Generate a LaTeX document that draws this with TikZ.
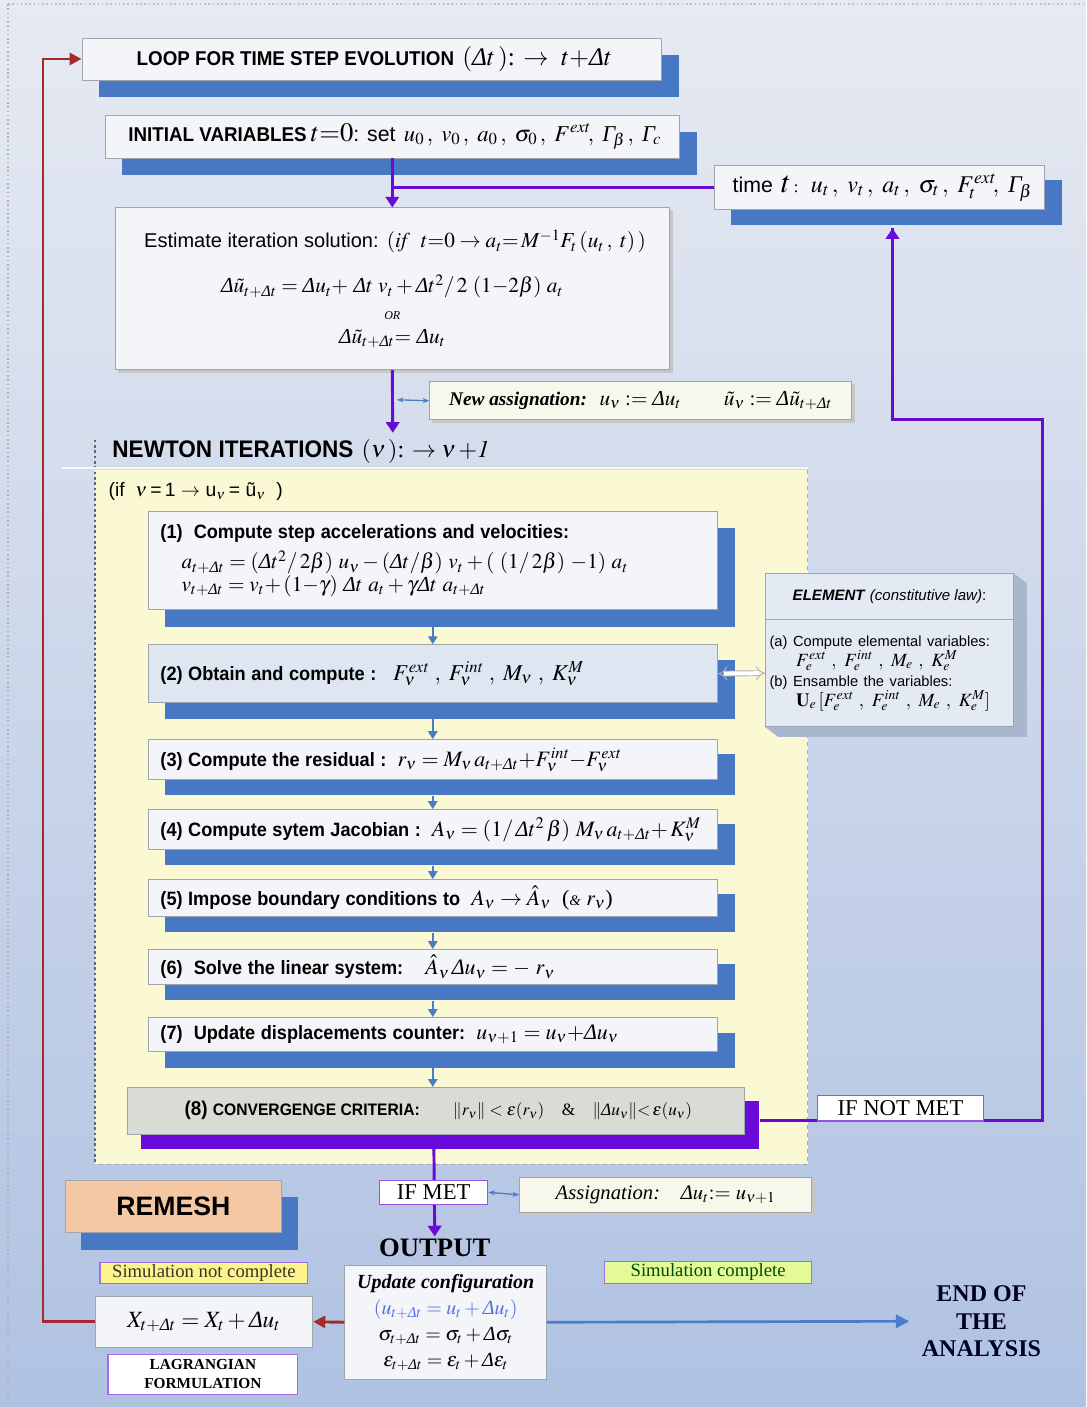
\documentclass[tikz,border=0pt]{standalone}
\usepackage{mathptmx}
\usepackage{amsmath}
\usepackage{fontspec}
\setmainfont{Liberation Serif}
\setsansfont{Liberation Sans}
\newfontfamily\nsf[FakeStretch=0.94]{Liberation Sans}
\usetikzlibrary{arrows.meta,calc}
\pgfdeclarelayer{bg}\pgfdeclarelayer{shad}
\pgfsetlayers{bg,shad,main}
\definecolor{bgtop}{HTML}{E6EAF2}
\definecolor{bgbot}{HTML}{B0C2E2}
\definecolor{shblue}{HTML}{4878C4}
\definecolor{boxfill}{HTML}{F3F5F9}
\definecolor{boxedge}{HTML}{A0A4AC}
\definecolor{purp}{HTML}{6A0AD8}
\definecolor{dred}{HTML}{A52A30}
\definecolor{arrblue}{HTML}{4A7CC8}
\definecolor{yel}{HTML}{FBF8D4}
\definecolor{cream}{HTML}{F8F7EC}
\definecolor{conv}{HTML}{D8DCD4}
\definecolor{remeshc}{HTML}{F4C8A2}
\definecolor{elemc}{HTML}{E4EAF4}
\definecolor{elemside}{HTML}{A8B6CE}
\definecolor{steptwo}{HTML}{DEE6F2}
\definecolor{simy}{HTML}{FCF38C}
\definecolor{simg}{HTML}{E4FA98}
\definecolor{outblue}{HTML}{5470E0}
\newcommand\Dl{\text{\itshape Δ}}
\newcommand\Gm{\text{\itshape Γ}}
\newcommand\fs[1]{\fontsize{#1}{#1}\selectfont}
\newcommand\shad[3][shblue]{\begin{pgfonlayer}{shad}\fill[#1] ([shift={(#3)}]#2.north west) rectangle ([shift={(#3)}]#2.south east);\end{pgfonlayer}}
\begin{document}
\begin{tikzpicture}[x=0.75pt,y=-0.75pt,
  every node/.style={font=\fontsize{12.5}{15}\selectfont},
  area/.style n args={4}{at={({(#1+#3)/2},{(#2+#4)/2})}, minimum width={(#3-#1)*0.75pt}, minimum height={(#4-#2)*0.75pt}},
  box/.style={draw=boxedge, fill=boxfill, line width=0.6pt, inner sep=0pt},
  cbox/.style={box, fill=cream},
  stepbox/.style={box, text width=417pt, align=left},
  lbl/.style={draw=purp!70, fill=white, line width=0.9pt, inner sep=0pt, font=\fontsize{17}{19}\selectfont},
  simbox/.style={draw=purp!60, line width=0.9pt, inner sep=0pt, font=\fontsize{14}{16}\selectfont},
  purpline/.style={draw=purp, line width=2.2pt},
  parrow/.style={purpline, -{Triangle[width=10pt,length=8pt]}},
  sarrow/.style={draw=arrblue, line width=1.6pt, -{Triangle[width=7pt,length=6pt]}},
  dblue/.style={draw=arrblue, line width=1pt, {Stealth[length=5pt]}-{Stealth[length=5pt]}},
  redarrow/.style={draw=dred, line width=2.2pt, -{Triangle[width=9pt,length=9pt]}},
  hollow/.style={double=white, double distance=3pt, draw=gray!60, line width=0.7pt, {Implies}-{Implies}}
]
\begin{pgfonlayer}{bg}
\shade[top color=bgtop, bottom color=bgbot] (0,0) rectangle (1086,1407);
\draw[gray!60, dotted, line width=1.2pt] (8,4) -- (8,1407);
\draw[gray!50, dotted, line width=1.2pt] (8,4) -- (1086,4);
\fill[yel] (95,470) rectangle (808,1165);
\draw[gray!70, dashed, line width=0.6pt] (808,470) -- (808,1165) -- (95,1165);
\draw[black!60, dash pattern=on 2pt off 2pt, line width=1pt] (95,440) -- (95,1165);
\draw[white!60!bgtop, line width=1.5pt] (62,468) -- (808,468);
\end{pgfonlayer}
\useasboundingbox (0,0) rectangle (1086,1407);

% top boxes
\node[box, area={82}{38}{662}{80}] (loop) {{\nsf\bfseries\fs{15} LOOP FOR TIME STEP EVOLUTION}\ \ {\fs{19}$(\Dl t\,)$: $\rightarrow$\ \ $t{+}\Dl t$}};
\shad{loop}{17,17}
\node[box, area={105}{115}{680}{158}] (init) {{\nsf\bfseries\fs{15} INITIAL VARIABLES} {\fs{20}$t{=}0$}{\sffamily\fs{16}: set}\ \ {\fs{17}$u_0\,,\ v_0\,,\ a_0\,,\ \sigma_0\,,\ F^{\mathit{ext}}\!,\ \Gm_{\!\beta}\,,\ \Gm_{\!c}$}};
\shad{init}{17,17}
\node[box, area={715}{165}{1045}{210}] (time) {{\sffamily\fs{16} time}\ \ {\fs{23}$t$}\,:\ \ \ {\fs{18}$u_t\,,\ v_t\,,\ a_t\,,\ \sigma_t\,,\ F_t^{\mathit{ext}}\!,\ \Gm_{\!\beta}$}};
\shad{time}{17,15}

\node[box, area={115}{208}{670}{370}, align=center] (est) {{\sffamily\fs{15} Estimate iteration solution:}\ \ {\fs{16}$(\mathit{if}\ \ t{=}0\rightarrow a_t{=}\,M^{-1}F_t\,(u_t\,,\ t)\,)$}\\[15pt]
{\fs{16}$\Dl\tilde u_{t+\Dl t} = \Dl u_t{+}\ \Dl t\ v_t + \Dl t^2/\,2\ (1{-}2\beta)\ a_t$}\\[5pt]
{\fs{9}\itshape OR}\\[3pt]
{\fs{16}$\Dl\tilde u_{t+\Dl t}{=}\ \Dl u_t$}};
\shad[gray!45]{est}{3,3}

\draw[parrow] (init.south) -- (est.north);
\begin{pgfonlayer}{shad}
\draw[purpline] (time.west) -- (time.west -| init.south);
\end{pgfonlayer}

\node[cbox, area={430}{382}{852}{420}] (assign) {{\fs{14.5}\textbf{\textit{New assignation:}}}\ \ \ {\fs{16}$u_\nu := \Dl u_t$\qquad $\tilde u_\nu := \Dl\tilde u_{t+\Dl t}$}};
\shad[gray!45]{assign}{3,3}

\node[anchor=west, inner sep=0pt] (newton) at (106,452) {{\nsf\bfseries\fs{18} NEWTON ITERATIONS}\ \ {\fs{18}$(\nu\,)$: $\rightarrow \nu\,{+}\mathit{1}$}};
\coordinate (ntop) at (393,433);
\draw[parrow] (est.south) -- (ntop);
\coordinate (aa) at (397,400);
\draw[dblue] (aa) -- (assign.west);

\node[anchor=west, inner sep=0pt] (ifnu) at (103,492) {{\sffamily\fs{14.5} (if\ \ $\nu$\,=\,1 $\rightarrow$ u$_\nu$\,= ũ$_\nu$\ \ )}};

% Newton steps
\node[stepbox, area={148}{512}{718}{610}] (s1) {{\nsf\bfseries\fs{14.5} (1)\ \ Compute step accelerations and velocities:}\\[5pt]
\hspace*{20pt}{\fontsize{16}{21}\selectfont$a_{t+\Dl t} = (\Dl t^2/\,2\beta)\ u_\nu - (\Dl t/\beta)\ v_t + (\ (1/\,2\beta)\ {-}1)\ a_t$}\\
\hspace*{20pt}{\fontsize{16}{21}\selectfont$v_{t+\Dl t} = v_t{+}\,(1{-}\gamma)\ \Dl t\ a_t + \gamma\Dl t\ a_{t+\Dl t}$}};
\shad{s1}{17,17}
\node[stepbox, fill=steptwo, area={148}{645}{718}{703}] (s2) {{\nsf\bfseries\fs{14.5} (2) Obtain and compute :}\ \ \ {\fs{17}$F_\nu^{\mathit{ext}}\ ,\ F_\nu^{\mathit{int}}\ ,\ M_\nu\ ,\ K_\nu^M$}};
\shad{s2}{17,16}
\node[stepbox, area={148}{740}{718}{780}] (s3) {{\nsf\bfseries\fs{14.5} (3) Compute the residual :}\ \ {\fs{16.5}$r_\nu = M_\nu\,a_{t+\Dl t}{+}F_\nu^{\mathit{int}}{-}F_\nu^{\mathit{ext}}$}};
\shad{s3}{17,15}
\node[stepbox, area={148}{810}{718}{850}] (s4) {{\nsf\bfseries\fs{14.5} (4) Compute sytem Jacobian :}\ \ {\fs{16.5}$A_\nu = (1/\,\Dl t^2\,\beta)\ M_\nu\,a_{t+\Dl t}{+}\,K_\nu^M$}};
\shad{s4}{17,15}
\node[stepbox, area={148}{880}{718}{917}] (s5) {{\nsf\bfseries\fs{14.5} (5) Impose boundary conditions to}\ \ {\fs{16.5}$A_\nu\rightarrow \hat A_\nu$\ \ ({\fs{11}\textit{\&}} $r_\nu$)}};
\shad{s5}{17,15}
\node[stepbox, area={148}{950}{718}{985}] (s6) {{\nsf\bfseries\fs{14.5} (6)\ \ Solve the linear system:}\quad\ {\fs{16.5}$\hat A_\nu\,\Dl u_\nu = -\ r_\nu$}};
\shad{s6}{17,15}
\node[stepbox, area={148}{1018}{718}{1052}] (s7) {{\nsf\bfseries\fs{14.5} (7)\ \ Update displacements counter:}\ \ {\fs{16.5}$u_{\nu+1} = u_\nu{+}\Dl u_\nu$}};
\shad{s7}{17,16}
\node[box, fill=conv, area={127}{1088}{745}{1135}] (s8) {{\nsf\bfseries\fs{15} (8) {\fs{12.5}CONVERGENGE CRITERIA:}}\qquad {\fs{13}$\|r_\nu\| < \varepsilon(r_\nu)$\quad \&\quad $\|\Dl u_\nu\| {<}\,\varepsilon(u_\nu)$}};
\shad[purp]{s8}{14,14}

\foreach \a/\b in {s1/s2,s2/s3,s3/s4,s4/s5,s5/s6,s6/s7}
  \draw[sarrow] ([shift={(0,16)}]\a.south) -- (\b.north);
\draw[sarrow] ([shift={(0,16)}]s7.south) -- (s7.south |- s8.north);

% element box
\node[box, fill=elemc, area={766}{574}{1014}{620}] (elemh) {{\sffamily\fs{11.3}\textbf{\textit{ELEMENT}} \textit{(constitutive law)}:}};
\node[box, fill=elemc, area={766}{620}{1014}{727}, text width=180pt, align=left] (elemb) {{\sffamily\fontsize{11}{14}\selectfont (a) Compute elemental variables:}\\
\hspace*{20pt}{\fontsize{14}{15}\selectfont$F_e^{\mathit{ext}}\ ,\ F_e^{\mathit{int}}\ ,\ M_e\ ,\ K_e^M$}\\
{\sffamily\fontsize{11}{14}\selectfont (b) Ensamble the variables:}\\
\hspace*{20pt}{\fontsize{14}{15}\selectfont$\mathbf{U}_e\,[F_e^{\mathit{ext}}\ ,\ F_e^{\mathit{int}}\ ,\ M_e\ ,\ K_e^M]$}};
\begin{pgfonlayer}{shad}
\fill[elemside] (elemh.north east) -- ++(13,10) -- ([shift={(13,10)}]elemb.south east) -- ([shift={(13,10)}]elemb.south west) -- (elemb.south west) -- cycle;
\draw[gray!60, line width=0.5pt] (elemh.south east) -- ++(13,10);
\end{pgfonlayer}
\draw[hollow] (s2.east) -- (elemb.west);

% IF NOT MET loop
\coordinate (r1) at (1043,420);
\begin{pgfonlayer}{shad}
\draw[purpline] ([shift={(15,10)}]s8.east) -| (r1) -| ([shift={(13,18)}]time.south);
\end{pgfonlayer}
\draw[parrow] ([shift={(13,40)}]time.south) -- ([shift={(13,18)}]time.south);
\node[lbl, minimum width=125pt, minimum height=19pt] (ifnot) at (901,1109) {IF NOT MET};

% output part
\node[font=\bfseries\fs{20}, inner sep=0pt] (outt) at (435,1249) {OUTPUT};
\node[lbl, minimum width=81pt, minimum height=18pt] (ifmet) at (434,1193) {IF MET};
\begin{pgfonlayer}{shad}
\draw[parrow] (ifmet.north |- s8.south) -- ([yshift=2pt]outt.north);
\end{pgfonlayer}
\node[cbox, area={520}{1178}{812}{1213}] (assign2) {{\fs{15.5}\textit{Assignation:}\quad $\Dl u_t{:=}\ u_{\nu+1}$}};
\shad[gray!45]{assign2}{3,3}
\draw[dblue] (ifmet.east) -- (assign2.west);

\node[box, area={345}{1266}{547}{1380}, align=center, font=\fontsize{15}{19.5}\selectfont] (out) {\textbf{\textit{Update configuration}}\\ {\color{outblue}$(u_{t+\Dl t}= u_t+\Dl u_t)$}\\ $\sigma_{t+\Dl t} = \sigma_t + \Dl\sigma_t$\\ $\varepsilon_{t+\Dl t} = \varepsilon_t + \Dl\varepsilon_t$};

\node[box, fill=remeshc, area={65}{1181}{282}{1233}, font=\sffamily\bfseries\fs{20}] (remesh) {REMESH};
\shad{remesh}{16,17}

\node[simbox, fill=simy, area={100}{1263}{308}{1284}, text=black!80!olive] (snc) {Simulation not complete};
\node[box, area={95}{1297}{313}{1348}] (lag) {{\fs{17.5}$X_{t+\Dl t} = X_t + \Dl u_t$}};
\node[simbox, fill=white, area={108}{1355}{298}{1395}, align=center, font=\bfseries\fontsize{11.5}{14}\selectfont] (lagf) {LAGRANGIAN\\FORMULATION};
\node[simbox, fill=simg, area={605}{1262}{812}{1284}, text=black!70!green] (sc) {Simulation complete};
\node[align=center, font=\bfseries\fontsize{18}{20.5}\selectfont, text=black!85!blue] (endn) at (982,1322) {END OF\\THE\\ANALYSIS};

\draw[redarrow] (out.west) -- (lag.east);
\coordinate (lx) at (43,0);
\draw[redarrow] (lag.west) -- (lag.west -| lx) -- (loop.west -| lx) -- (loop.west);
\draw[draw=arrblue, line width=2pt, -{Triangle[width=10pt,length=10pt]}, shorten >=6pt] (out.east) -- (endn.west);
\end{tikzpicture}
\end{document}
